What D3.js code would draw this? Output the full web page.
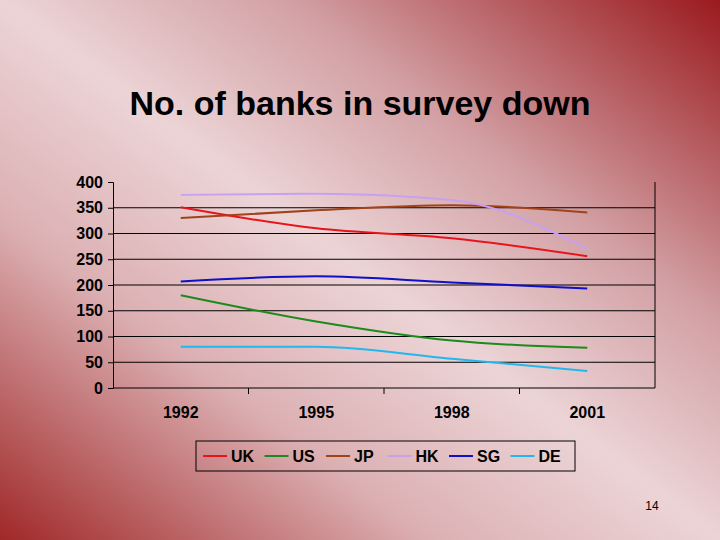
<!DOCTYPE html><html><head><meta charset="utf-8"><script src="https://cdn.jsdelivr.net/npm/d3@7"></script>
<style>body{margin:0}svg{display:block;font-family:Arial,"Liberation Sans",sans-serif}</style></head><body><script>
const years=["1992","1995","1998","2001"];
const seriesNames=["UK","US","JP","HK","SG","DE"];
const colors=["#e8141c","#1c8a1c","#a0421a","#c9a0ef","#1010c8","#20b8ee"];
const UK=[351,310,291,256],US=[180,129,92,78],JP=[330,345,355,341],HK=[375,377,365,271],SG=[207,217,205,193],DE=[80,80,57,33];
const values=[UK,US,JP,HK,SG,DE];
const yTicks=[0,50,100,150,200,250,300,350,400];
const W=720,H=540;
const svg=d3.select("body").append("svg").attr("width",W).attr("height",H);
const defs=svg.append("defs");
const g1=defs.append("linearGradient").attr("id","bg").attr("x1","0").attr("y1","1").attr("x2","1").attr("y2","0");
[[0,"#a02828"],[0.3,"#dcb0b3"],[0.5,"#ecd4d6"],[0.7,"#d2a0a4"],[1,"#9a1a1e"]].forEach(s=>g1.append("stop").attr("offset",s[0]).attr("stop-color",s[1]));
svg.append("rect").attr("width",W).attr("height",H).attr("fill","url(#bg)");
svg.append("text").attr("x",360).attr("y",115).attr("text-anchor","middle").attr("font-size",34).attr("font-weight","bold").text("No. of banks in survey down");
const x=d3.scaleBand().domain(years).range([113,655]);
const y=d3.scaleLinear().domain([0,400]).range([388,182]);
const p=svg.append("g");
p.selectAll(".grid").data(yTicks.filter(t=>t>0&&t<400)).join("line").attr("x1",113).attr("x2",655).attr("y1",d=>y(d)).attr("y2",d=>y(d)).attr("stroke","#000").attr("stroke-width",1);
p.append("line").attr("x1",655).attr("x2",655).attr("y1",y(400)).attr("y2",y(0)).attr("stroke","#000");
const ya=p.append("g").attr("transform","translate(113,0)").call(d3.axisLeft(y).tickValues(yTicks).tickSize(5).tickFormat(d3.format("d")));
ya.selectAll("text").attr("font-size",16).attr("font-weight","bold").attr("fill","#000").attr("dx",-2);
ya.select(".domain").attr("stroke","#000");
const xa=p.append("g").attr("transform","translate(0,388)").call(d3.axisBottom(x).tickSize(0).tickPadding(19));
xa.selectAll("text").attr("font-size",16).attr("font-weight","bold").attr("fill","#000");
xa.select(".domain").attr("stroke","#000").attr("d","M113,0H655");
xa.selectAll(".sep").data(years.slice(1)).join("line").attr("x1",d=>x(d)).attr("x2",d=>x(d)).attr("y1",0).attr("y2",6).attr("stroke","#000");
const line=d3.line().x((d,i)=>x(years[i])+x.bandwidth()/2).y(d=>y(d)).curve(d3.curveMonotoneX);
values.forEach((v,i)=>p.append("path").attr("d",line(v)).attr("fill","none").attr("stroke",colors[i]).attr("stroke-width",2));
const lg=svg.append("g");
lg.append("rect").attr("x",196).attr("y",441).attr("width",379).attr("height",30).attr("fill","none").attr("stroke","#000");
seriesNames.forEach((n,i)=>{const gx=203+i*61.5;
 lg.append("line").attr("x1",gx).attr("x2",gx+24).attr("y1",456).attr("y2",456).attr("stroke",colors[i]).attr("stroke-width",2);
 lg.append("text").attr("x",gx+28).attr("y",462).attr("font-size",16).attr("font-weight","bold").text(n);});
svg.append("text").attr("x",652).attr("y",510).attr("text-anchor","middle").attr("font-size",12).text("14");
</script></body></html>
